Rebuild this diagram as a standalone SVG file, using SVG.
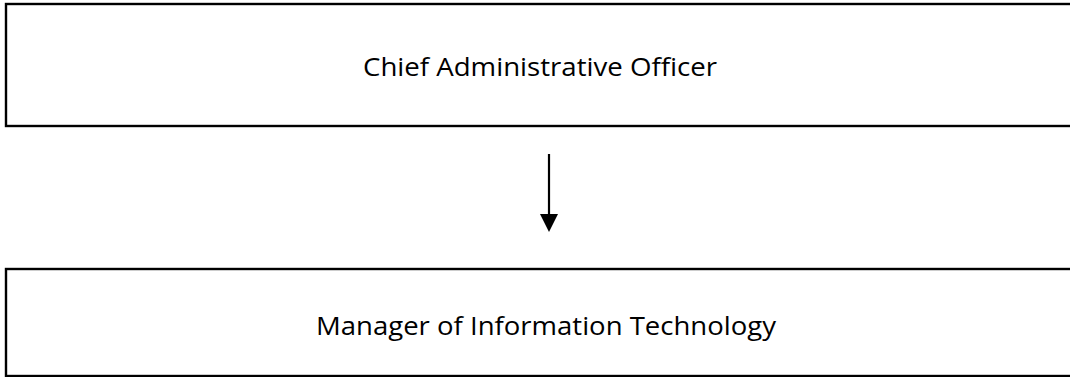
<svg xmlns="http://www.w3.org/2000/svg" width="1070" height="377" viewBox="0 0 1070 377">
  <defs>
    <style>
      .box { fill: #ffffff; stroke: #000000; stroke-width: 2.4; }
      .label { font-family: "Open Sans", "Noto Sans", sans-serif; font-size: 26px; fill: #000000; }
      .link { stroke: #000000; stroke-width: 2.2; fill: none; }
    </style>
  </defs>
  <rect width="1070" height="377" fill="#ffffff"/>
  <g id="chief-administrative-officer">
    <rect class="box" x="6" y="4" width="1080" height="122"/>
    <text class="label" x="363" y="76" textLength="354" lengthAdjust="spacingAndGlyphs">Chief Administrative Officer</text>
  </g>
  <g id="manager-of-information-technology">
    <rect class="box" x="6" y="269" width="1080" height="107"/>
    <text class="label" x="316" y="335" textLength="460" lengthAdjust="spacingAndGlyphs">Manager of Information Technology</text>
  </g>
  <g id="connectors">
    <path class="link" d="M549,154 L549,216"/>
    <path d="M540,214 L558,214 L549,232 Z" fill="#000000"/>
  </g>
</svg>
